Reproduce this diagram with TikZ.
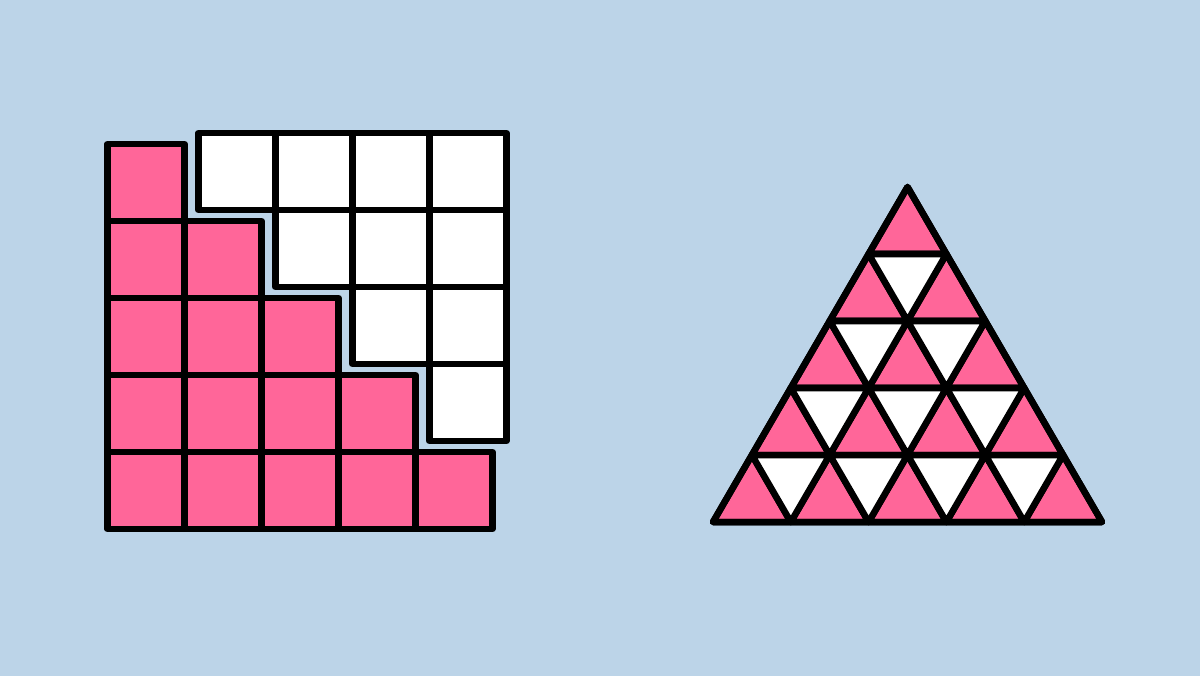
\documentclass[tikz,border=0pt]{standalone}
\usepackage{xcolor}
\usepackage{tikz}
\usetikzlibrary{calc}
\definecolor{skyblue}{HTML}{BCD4E8}
\definecolor{tilepink}{HTML}{FF6699}
\tikzset{
  tileline/.style={draw=black, line width=1.85pt, line join=round},
  pinktile/.style={tileline, fill=tilepink},
  whitetile/.style={tileline, fill=white}
}

\begin{document}
\begin{tikzpicture}[x=0.01cm, y=-0.01cm]
  \fill[skyblue] (0,0) rectangle (1200,676);
  \useasboundingbox (0,0) rectangle (1200,676);
  % pink staircase
  \foreach \r in {0,...,4} {
    \foreach \c in {0,...,\r} {
      \draw[pinktile] (107.5+77*\c,144+77*\r) rectangle ++(77,77);
    }
  }
  % white staircase
  \foreach \r in {0,...,3} {
    \foreach \c in {\r,...,3} {
      \draw[whitetile] (198.5+77*\c,133+77*\r) rectangle ++(77,77);
    }
  }
  % triangle of triangles
  \coordinate (apex) at (907.5,187);
  \foreach \r in {0,...,4} {
    \foreach \k in {0,...,\r} {
      \draw[pinktile] ($(apex)+(-38.9*\r+77.8*\k,67*\r)$) -- ++(38.9,67) -- ++(-77.8,0) -- cycle;
    }
  }
  \foreach \r in {1,...,4} {
    \pgfmathtruncatemacro{\last}{\r-1}
    \foreach \k in {0,...,\last} {
      \draw[whitetile] ($(apex)+(-38.9*\r+77.8*\k,67*\r)$) -- ++(77.8,0) -- ++(-38.9,67) -- cycle;
    }
  }
  \draw[tileline] (apex) -- ++(194.5,335) -- ++(-389,0) -- cycle;
\end{tikzpicture}
\end{document}
